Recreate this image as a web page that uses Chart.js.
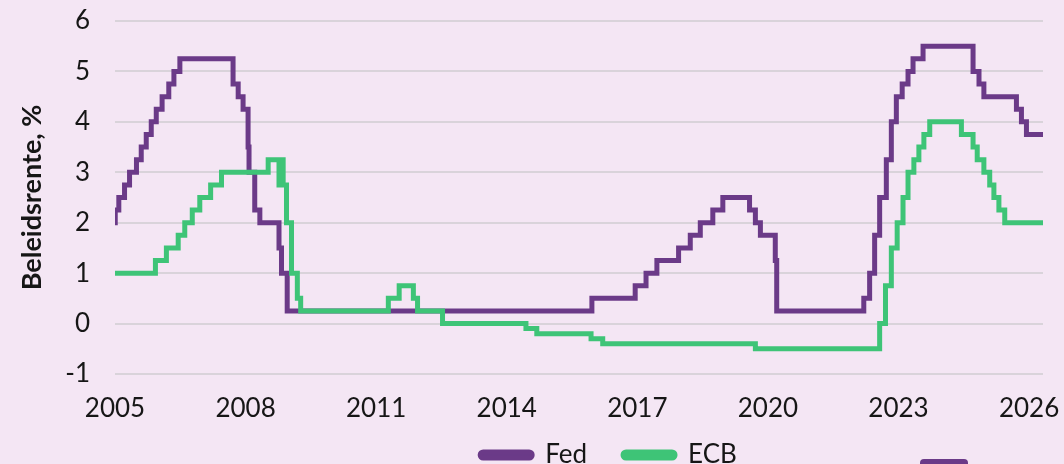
<!DOCTYPE html>
<html>
<head>
<meta charset="utf-8">
<script src="https://cdn.jsdelivr.net/npm/chart.js@4.4.1/dist/chart.umd.min.js"></script>
<style>
  html, body { margin: 0; padding: 0; background: #f4e6f4; overflow: hidden; }
  #wrap { position: relative; width: 1064px; height: 500px; }
  #deco { position: absolute; left: 920px; top: 459px; width: 48px; height: 14px; background: #6b3a88; border-radius: 4px; }
</style>
</head>
<body>
<div id="wrap">
  <canvas id="c" width="1064" height="500"></canvas>
  <div id="deco"></div>
</div>
<script>
// Fed funds target rate (upper bound), effective dates
const fedDates = ["2005-01-01","2005-01-03","2005-02-02","2005-03-22","2005-05-03","2005-06-30","2005-08-09","2005-09-20","2005-11-01","2005-12-13",
  "2006-01-31","2006-03-28","2006-05-10","2006-06-29","2007-09-18","2007-10-31","2007-12-11","2008-01-22","2008-01-30","2008-03-18",
  "2008-04-30","2008-10-08","2008-10-29","2008-12-16","2015-12-16","2016-12-14","2017-03-15","2017-06-14","2017-12-13","2018-03-21",
  "2018-06-13","2018-09-26","2018-12-19","2019-07-31","2019-09-18","2019-10-30","2020-03-03","2020-03-15","2022-03-16","2022-05-04",
  "2022-06-15","2022-07-27","2022-09-21","2022-11-02","2022-12-14","2023-02-01","2023-03-22","2023-05-03","2023-07-26","2024-09-18",
  "2024-11-07","2024-12-18","2025-09-17","2025-10-29","2025-12-10","2026-04-28"];
const fedRates = [2.00,2.25,2.50,2.75,3.00,3.25,3.50,3.75,4.00,4.25,
  4.50,4.75,5.00,5.25,4.75,4.50,4.25,3.50,3.00,2.25,
  2.00,1.50,1.00,0.25,0.50,0.75,1.00,1.25,1.50,1.75,
  2.00,2.25,2.50,2.25,2.00,1.75,1.25,0.25,0.50,1.00,
  1.75,2.50,3.25,4.00,4.50,4.75,5.00,5.25,5.50,5.00,
  4.75,4.50,4.25,4.00,3.75,3.75];

// ECB deposit facility rate, effective dates
const ecbDates = ["2005-01-01","2005-12-06","2006-03-08","2006-06-15","2006-08-09","2006-10-11","2006-12-13","2007-03-14","2007-06-13","2008-07-09",
  "2008-10-08","2008-10-15","2008-11-12","2008-12-10","2009-01-21","2009-03-11","2009-04-08","2011-04-13","2011-07-13","2011-11-09",
  "2011-12-14","2012-07-11","2014-06-11","2014-09-10","2015-12-09","2016-03-16","2019-09-18","2022-07-27","2022-09-14","2022-11-02",
  "2022-12-21","2023-02-08","2023-03-22","2023-05-10","2023-06-21","2023-08-02","2023-09-20","2024-06-12","2024-09-18","2024-10-23",
  "2024-12-18","2025-02-05","2025-03-12","2025-04-23","2025-06-11","2026-04-28"];
const ecbRates = [1.00,1.25,1.50,1.75,2.00,2.25,2.50,2.75,3.00,3.25,
  2.75,3.25,2.75,2.00,1.00,0.50,0.25,0.50,0.75,0.50,
  0.25,0.00,-0.10,-0.20,-0.30,-0.40,-0.50,0.00,0.75,1.50,
  2.00,2.50,3.00,3.25,3.50,3.75,4.00,3.75,3.50,3.25,
  3.00,2.75,2.50,2.25,2.00,2.00];

const xTickYears = [2005, 2008, 2011, 2014, 2017, 2020, 2023, 2026];
const yTicks = [-1, 0, 1, 2, 3, 4, 5, 6];
const seriesNames = ["Fed", "ECB"];

function toYear(s) {
  const p = s.split("-").map(Number);
  const y = p[0];
  const t = Date.UTC(y, p[1] - 1, p[2]);
  return y + (t - Date.UTC(y, 0, 1)) / (Date.UTC(y + 1, 0, 1) - Date.UTC(y, 0, 1));
}
function pts(dates, vals) { return dates.map((d, i) => ({ x: toYear(d), y: vals[i] })); }

const PURPLE = "#6b3a88";
const GREEN = "#3ec477";
const TEXT = "#161616";

// nudges the legend block to where the original places it
const legendNudge = {
  id: "legendNudge",
  afterLayout(chart) {
    const lg = chart.legend;
    if (!lg) return;
    lg.top -= 22; lg.bottom -= 22;
    lg.left += 87; lg.right += 87;
  }
};

new Chart(document.getElementById("c"), {
  type: "line",
  data: {
    datasets: [
      { label: seriesNames[0], data: pts(fedDates, fedRates), borderColor: PURPLE, backgroundColor: PURPLE,
        borderWidth: 5, stepped: true, pointRadius: 0, fill: false, order: 2, borderJoinStyle: "miter" },
      { label: seriesNames[1], data: pts(ecbDates, ecbRates), borderColor: GREEN, backgroundColor: GREEN,
        borderWidth: 5, stepped: true, pointRadius: 0, fill: false, order: 1, borderJoinStyle: "miter" }
    ]
  },
  plugins: [legendNudge],
  options: {
    responsive: false,
    animation: false,
    events: [],
    layout: { padding: { top: 21, right: 21, left: 0, bottom: 0 } },
    plugins: {
      legend: {
        position: "bottom",
        labels: {
          color: TEXT,
          font: { family: "Lato", size: 26 },
          boxWidth: 52,
          boxHeight: 6,
          useBorderRadius: true,
          borderRadius: 3,
          padding: 36,
          sort: (a, b) => a.datasetIndex - b.datasetIndex
        }
      },
      tooltip: { enabled: false }
    },
    scales: {
      x: {
        type: "linear",
        min: toYear("2005-01-01"),
        max: 2026.32,
        grid: { display: false, drawTicks: false },
        border: { display: false },
        afterBuildTicks: (s) => { s.ticks = xTickYears.map(v => ({ value: v })); },
        afterFit: (s) => { s.height = 54; s.paddingLeft = 0; s.paddingRight = 0; },
        ticks: {
          color: TEXT, font: { family: "Lato", size: 26 }, padding: 19, maxRotation: 0, autoSkip: false,
          callback: (v) => String(v)
        }
      },
      y: {
        min: -1, max: 6,
        afterBuildTicks: (s) => { s.ticks = yTicks.map(v => ({ value: v })); },
        afterFit: (s) => { s.width = 115; s.paddingTop = 0; s.paddingBottom = 0; },
        grid: { color: "#d9d3da", lineWidth: 2, drawTicks: false },
        border: { display: false },
        ticks: { color: TEXT, font: { family: "Lato", size: 26 }, padding: 25 },
        title: {
          display: true, text: "Beleidsrente, %", color: TEXT,
          font: { family: "Lato", size: 27, weight: "bold" }, padding: { top: 16, bottom: 0 }
        }
      }
    }
  }
});
</script>
</body>
</html>
